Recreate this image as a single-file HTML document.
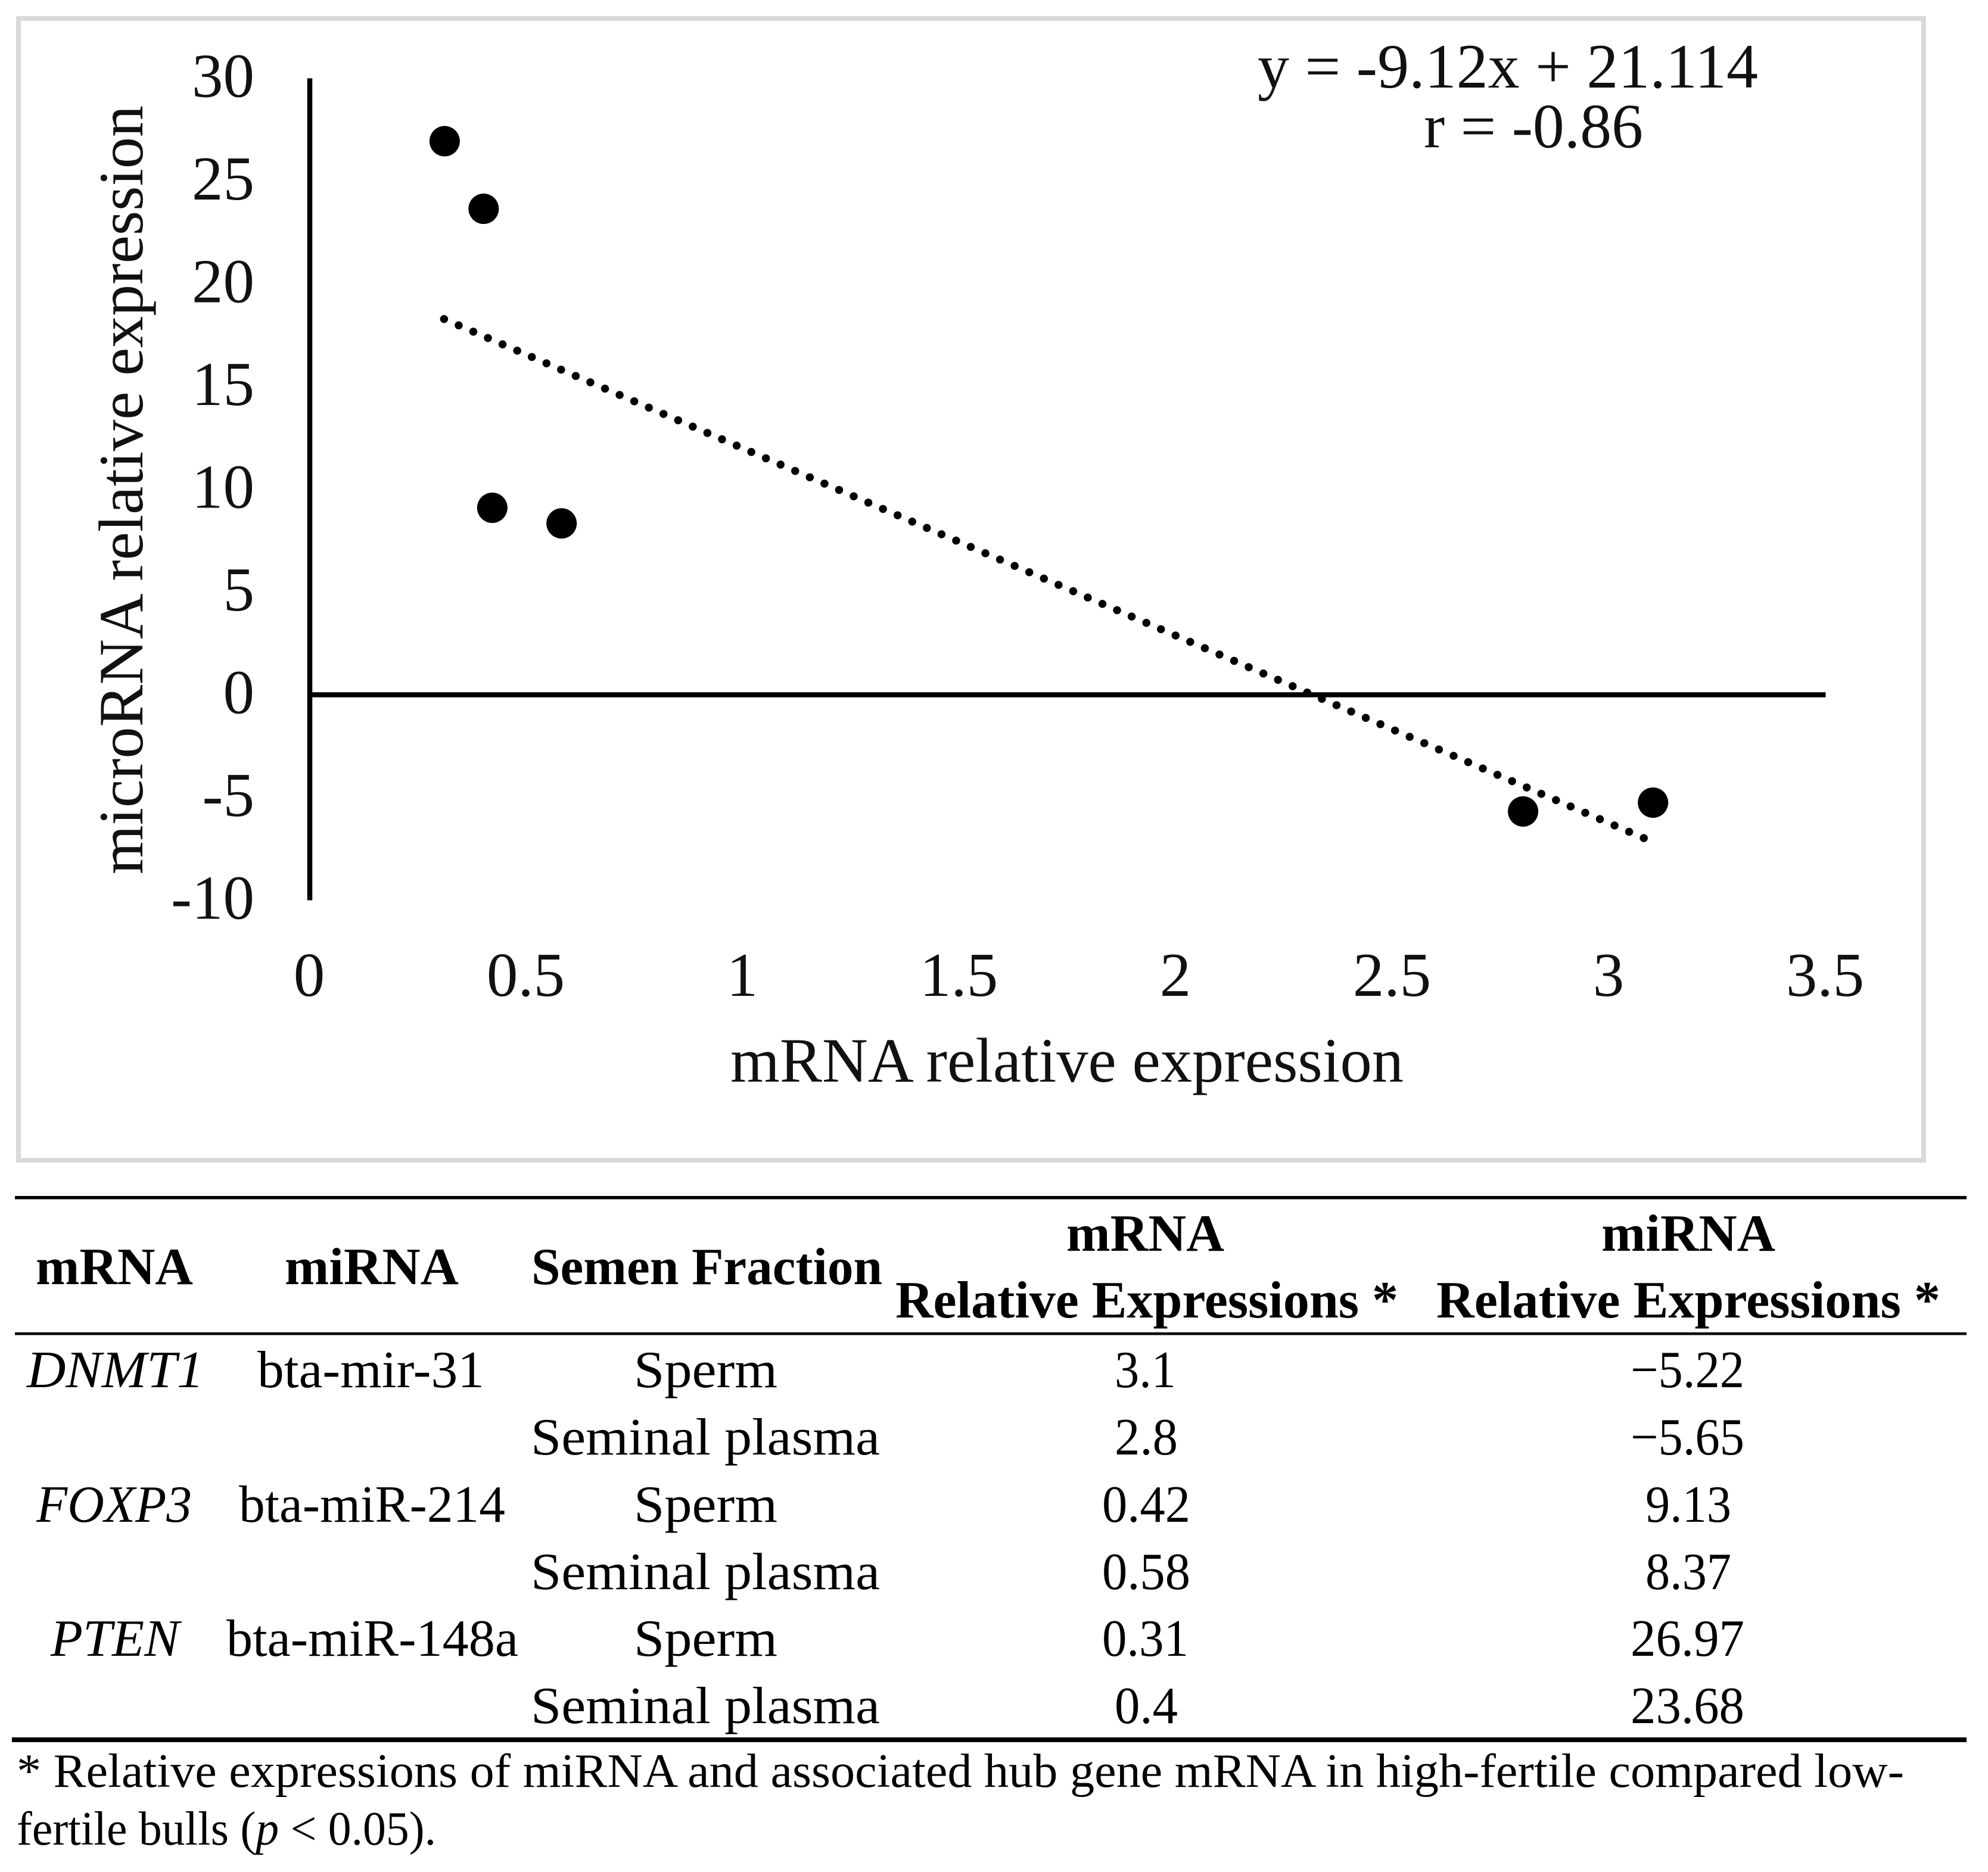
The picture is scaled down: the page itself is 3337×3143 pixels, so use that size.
<!DOCTYPE html>
<html lang="en">
<head>
<meta charset="utf-8">
<title>mRNA and miRNA relative expression</title>
<style>
  html, body { margin: 0; padding: 0; background: #fff; }
  #figure { display: block; width: 3337px; height: 3143px; }
  text { font-family: "Liberation Serif", "DejaVu Serif", serif; fill: #000; }
  .tick { font-size: 105px; fill: #111; }
  .title { font-size: 106px; fill: #111; }
  .tb { font-size: 88px; }
  .b { font-weight: bold; }
  .i { font-style: italic; }
  .fn { font-size: 81px; }
</style>
</head>
<body>
<svg id="figure" xmlns="http://www.w3.org/2000/svg" width="3337" height="3143" viewBox="0 0 3337 3143">
  <rect x="0" y="0" width="3337" height="3143" fill="#fff"/>
  <g id="chart">
    <rect x="31" y="31" width="3198" height="1917" fill="#fff" stroke="#d9d9d9" stroke-width="8"/>
    <g id="plot"></g>
    <text class="title" x="2111" y="147" textLength="840" lengthAdjust="spacingAndGlyphs">y = -9.12x + 21.114</text>
    <text class="title" x="2390" y="247.5" textLength="368" lengthAdjust="spacingAndGlyphs">r = -0.86</text>
    <text class="title" transform="translate(239 1468) rotate(-90)" x="0" y="0" textLength="1291" lengthAdjust="spacingAndGlyphs">microRNA relative expression</text>
    <text class="title" x="1226" y="1816" textLength="1130" lengthAdjust="spacingAndGlyphs">mRNA relative expression</text>
  </g>

  <g id="table">
    <rect x="25" y="2008" width="3276" height="5.5" fill="#000"/>
    <rect x="25" y="2237" width="3276" height="4.5" fill="#000"/>
    <rect x="20" y="2917" width="3281" height="8" fill="#000"/>

    <g>
      <text class="tb b" x="60" y="2156" textLength="264" lengthAdjust="spacingAndGlyphs">mRNA</text>
      <text class="tb b" x="478" y="2156" textLength="292" lengthAdjust="spacingAndGlyphs">miRNA</text>
      <text class="tb b" x="892" y="2156" textLength="589" lengthAdjust="spacingAndGlyphs">Semen Fraction</text>
      <text class="tb b" x="1790" y="2100" textLength="265" lengthAdjust="spacingAndGlyphs">mRNA</text>
      <text class="tb b" x="1503" y="2212" textLength="844" lengthAdjust="spacingAndGlyphs">Relative Expressions *</text>
      <text class="tb b" x="2688" y="2100" textLength="292" lengthAdjust="spacingAndGlyphs">miRNA</text>
      <text class="tb b" x="2411" y="2212" textLength="846" lengthAdjust="spacingAndGlyphs">Relative Expressions *</text>
    </g>

    <g>
      <text class="tb i" x="45" y="2329" textLength="297" lengthAdjust="spacingAndGlyphs">DNMT1</text>
      <text class="tb" x="432" y="2329" textLength="381" lengthAdjust="spacingAndGlyphs">bta-mir-31</text>
      <text class="tb" x="1064" y="2329" textLength="241" lengthAdjust="spacingAndGlyphs">Sperm</text>
      <text class="tb" x="1871" y="2329" textLength="103" lengthAdjust="spacingAndGlyphs">3.1</text>
      <text class="tb" x="2737" y="2329" textLength="191" lengthAdjust="spacingAndGlyphs">−5.22</text>
    </g>
    <g>
      <text class="tb" x="891" y="2442" textLength="586" lengthAdjust="spacingAndGlyphs">Seminal plasma</text>
      <text class="tb" x="1871" y="2442" textLength="106" lengthAdjust="spacingAndGlyphs">2.8</text>
      <text class="tb" x="2737" y="2442" textLength="191" lengthAdjust="spacingAndGlyphs">−5.65</text>
    </g>
    <g>
      <text class="tb i" x="61" y="2555" textLength="261" lengthAdjust="spacingAndGlyphs">FOXP3</text>
      <text class="tb" x="401" y="2555" textLength="447" lengthAdjust="spacingAndGlyphs">bta-miR-214</text>
      <text class="tb" x="1064" y="2555" textLength="241" lengthAdjust="spacingAndGlyphs">Sperm</text>
      <text class="tb" x="1850" y="2555" textLength="148" lengthAdjust="spacingAndGlyphs">0.42</text>
      <text class="tb" x="2762" y="2555" textLength="144" lengthAdjust="spacingAndGlyphs">9.13</text>
    </g>
    <g>
      <text class="tb" x="891" y="2668" textLength="586" lengthAdjust="spacingAndGlyphs">Seminal plasma</text>
      <text class="tb" x="1850" y="2668" textLength="148" lengthAdjust="spacingAndGlyphs">0.58</text>
      <text class="tb" x="2762" y="2668" textLength="144" lengthAdjust="spacingAndGlyphs">8.37</text>
    </g>
    <g>
      <text class="tb i" x="85" y="2780" textLength="216" lengthAdjust="spacingAndGlyphs">PTEN</text>
      <text class="tb" x="380" y="2780" textLength="490" lengthAdjust="spacingAndGlyphs">bta-miR-148a</text>
      <text class="tb" x="1064" y="2780" textLength="241" lengthAdjust="spacingAndGlyphs">Sperm</text>
      <text class="tb" x="1850" y="2780" textLength="145" lengthAdjust="spacingAndGlyphs">0.31</text>
      <text class="tb" x="2737" y="2780" textLength="191" lengthAdjust="spacingAndGlyphs">26.97</text>
    </g>
    <g>
      <text class="tb" x="891" y="2893" textLength="586" lengthAdjust="spacingAndGlyphs">Seminal plasma</text>
      <text class="tb" x="1871" y="2893" textLength="106" lengthAdjust="spacingAndGlyphs">0.4</text>
      <text class="tb" x="2737" y="2893" textLength="191" lengthAdjust="spacingAndGlyphs">23.68</text>
    </g>
  </g>

  <g>
    <text class="fn" x="28" y="3000" textLength="3168" lengthAdjust="spacingAndGlyphs">* Relative expressions of miRNA and associated hub gene mRNA in high-fertile compared low-</text>
    <text class="fn" x="28" y="3097" textLength="704" lengthAdjust="spacingAndGlyphs">fertile bulls (<tspan class="i">p</tspan> &lt; 0.05).</text>
  </g>
</svg>

<script>
// Chart data
const xTicks = [0, 0.5, 1, 1.5, 2, 2.5, 3, 3.5];
const yTicks = [30, 25, 20, 15, 10, 5, 0, -5, -10];
const mrnaValues = [3.1, 2.8, 0.42, 0.58, 0.31, 0.4];
const mirnaValues = [-5.22, -5.65, 9.13, 8.37, 26.97, 23.68];
const trendSlope = [-9.12];
const trendIntercept = [21.114];
const trendRange = [0.31, 3.08];

// Axis functions
function xScale(v) { return 520 + v * 727; }
function yScale(v) { return 1166.5 - v * 34.5; }

const SVGNS = 'http://www.w3.org/2000/svg';
const plot = document.getElementById('plot');

// Trendline: dot spacing is fitted so a dot lands exactly on the line's end
const tx1 = xScale(trendRange[0]);
const ty1 = yScale(trendSlope[0] * trendRange[0] + trendIntercept[0]);
const tx2 = xScale(trendRange[1]);
const ty2 = yScale(trendSlope[0] * trendRange[1] + trendIntercept[0]);
const trendLength = Math.hypot(tx2 - tx1, ty2 - ty1);
const dotGap = trendLength / Math.round(trendLength / 26.7);
const trend = document.createElementNS(SVGNS, 'line');


trend.setAttribute('x1', tx1);
trend.setAttribute('y1', ty1);
trend.setAttribute('x2', tx2 + 0.5);
trend.setAttribute('y2', ty2 + 0.2);
trend.setAttribute('stroke', '#000');
trend.setAttribute('stroke-width', '13.5');
trend.setAttribute('stroke-linecap', 'round');
trend.setAttribute('stroke-dasharray', '0 ' + dotGap);
plot.appendChild(trend);

// Axes
const yAxis = document.createElementNS(SVGNS, 'line');


yAxis.setAttribute('x1', xScale(0));
yAxis.setAttribute('x2', xScale(0));
yAxis.setAttribute('y1', yScale(30));
yAxis.setAttribute('y2', yScale(-10));
yAxis.setAttribute('stroke', '#000');
yAxis.setAttribute('stroke-width', '8.5');
plot.appendChild(yAxis);

const xAxis = document.createElementNS(SVGNS, 'line');


xAxis.setAttribute('x1', xScale(0));
xAxis.setAttribute('x2', xScale(3.5));
xAxis.setAttribute('y1', yScale(0));
xAxis.setAttribute('y2', yScale(0));
xAxis.setAttribute('stroke', '#000');
xAxis.setAttribute('stroke-width', '8.5');
plot.appendChild(xAxis);

// Tick labels
yTicks.forEach(function (v) {
  const t = document.createElementNS(SVGNS, 'text');
  
  
  t.setAttribute('class', 'tick');
  t.setAttribute('x', 427);
  t.setAttribute('y', yScale(v) + 31);
  t.setAttribute('text-anchor', 'end');
  t.textContent = String(v);
  plot.appendChild(t);
});

xTicks.forEach(function (v) {
  const t = document.createElementNS(SVGNS, 'text');
  
  
  t.setAttribute('class', 'tick');
  t.setAttribute('x', xScale(v) - 1);
  t.setAttribute('y', 1672);
  t.setAttribute('text-anchor', 'middle');
  t.textContent = String(v);
  plot.appendChild(t);
});

// Points
mrnaValues.forEach(function (x, i) {
  const c = document.createElementNS(SVGNS, 'circle');
  
  
  c.setAttribute('cx', xScale(x) + 1);
  c.setAttribute('cy', yScale(mirnaValues[i]) + 1);
  c.setAttribute('r', 25.5);
  c.setAttribute('fill', '#000');
  plot.appendChild(c);
});
</script>
</body>
</html>
